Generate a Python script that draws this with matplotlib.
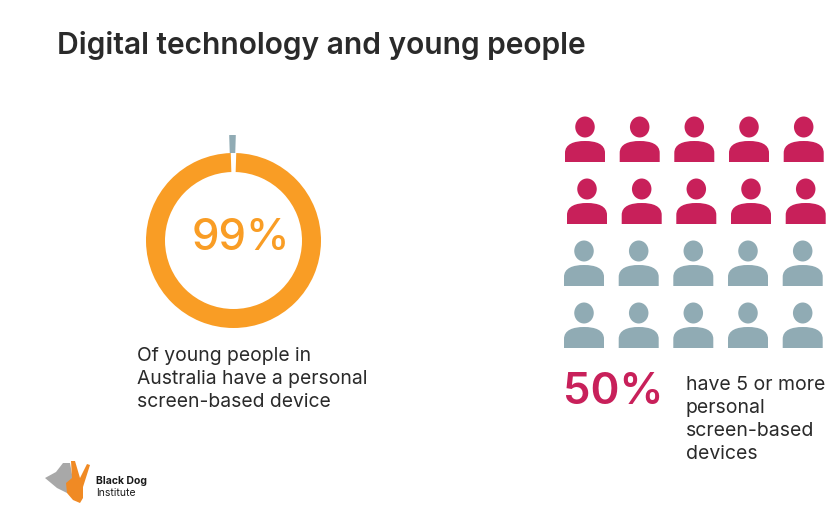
import matplotlib
matplotlib.use('Agg')
from matplotlib import pyplot as plt
from matplotlib.patches import Ellipse, PathPatch, Polygon
from matplotlib.path import Path

# values
have_device = [99, 1]
people_with_five = 10
col_x = [585, 639.7, 694.3, 749, 803.7]
row_y = [127, 189, 251, 313]
row_offset = [0, 2, -1, -1]

ORANGE = '#f99d25'
PINK = '#c8205a'
GREY = '#90abb4'
DARK = '#2a2a2a'

plt.rcParams['font.family'] = ['Inter', 'DejaVu Sans']

fig = plt.figure(figsize=(8.34, 5.08), dpi=100)
ax = fig.add_axes([0, 0, 1, 1])


def draw_person(x, y, color):
    ax.add_patch(Ellipse((x, y), 19.5, 21, color=color, lw=0))
    verts = [(x - 20, y + 35), (x - 20, y + 26), (x - 20, y + 17), (x - 11, y + 14), (x, y + 14),
             (x + 11, y + 14), (x + 20, y + 17), (x + 20, y + 26), (x + 20, y + 35), (x - 20, y + 35)]
    codes = [Path.MOVETO, Path.LINETO, Path.CURVE4, Path.CURVE4, Path.CURVE4,
             Path.CURVE4, Path.CURVE4, Path.CURVE4, Path.LINETO, Path.CLOSEPOLY]
    ax.add_patch(PathPatch(Path(verts, codes), color=color, lw=0))


def draw_logo():
    ax.add_patch(Polygon([(45, 478), (56, 472), (63, 463), (70, 463), (73, 480), (67, 493), (57, 488)],
                         color='#a8a8a8', lw=0))
    ax.add_patch(Polygon([(71, 461), (75, 461), (80, 478), (87, 464), (90, 465), (83, 487), (83, 498),
                          (80, 503), (73, 500), (67, 493), (66, 483), (72, 478)],
                         color='#f08a24', lw=0))


# donut, y axis is flipped so angles run the other way
ax.pie(have_device, colors=[ORANGE, 'none'], center=(233.5, 240.5), radius=87.5,
       startangle=270 + 1.8, frame=True, wedgeprops={'width': 19, 'linewidth': 0})
ax.set_xlim(0, 834)
ax.set_ylim(508, 0)
ax.pie(have_device, colors=['none', GREY], center=(232.5, 240.5), radius=105.5,
       startangle=270 + 1.8, frame=True, wedgeprops={'width': 18, 'linewidth': 0})
ax.set_xlim(0, 834)
ax.set_ylim(508, 0)
ax.set_aspect('auto')
ax.axis('off')

ax.text(241, 238, '99%', color=ORANGE, fontsize=31.5, ha='center', va='center', fontweight='medium')

# people
n = 0
for r, y in enumerate(row_y):
    for x in col_x:
        draw_person(x + row_offset[r], y, PINK if n < people_with_five else GREY)
        n += 1

ax.text(57, 46, 'Digital technology and young people', color=DARK, fontsize=21.6,
        fontweight='semibold', va='center')
ax.text(137, 379, 'Of young people in\nAustralia have a personal\nscreen-based device', color=DARK,
        fontsize=13.9, va='center', linespacing=1.39)
ax.text(563, 393, '50%', color=PINK, fontsize=31.5, fontweight='semibold', va='center')
ax.text(686, 419.5, 'have 5 or more\npersonal\nscreen-based\ndevices', color=DARK, fontsize=14,
        va='center', linespacing=1.37)

draw_logo()
ax.text(96, 481, 'Black Dog', color='#1a1a1a', fontsize=7.5, fontweight='bold', va='center')
ax.text(96, 493, 'Institute', color='#1a1a1a', fontsize=7.5, va='center')

fig.savefig('out.png', dpi=100)
